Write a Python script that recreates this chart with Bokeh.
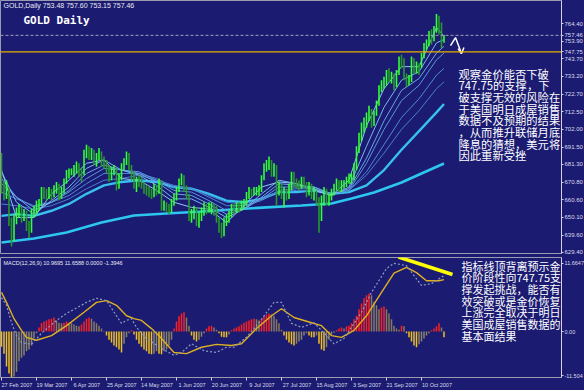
from bokeh.plotting import figure
from bokeh.layouts import column
from bokeh.models import ColumnDataSource, Range1d, FixedTicker, Span, Label, PrintfTickFormatter
from bokeh.embed import file_html
from bokeh.resources import INLINE

# ---------------- data ----------------
bar_high = [688,671,672,668,650,652,656,658,657,655,654,648,655,657,660,661,668,668,667,668,
            667,669,671,670,668,673,678,679,679,681,683,682,679,690,693,692,691,690,688,691,
            689,686,684,681,680,681,679,676,682,685,689,688,681,677,674,675,674,671,669,668,
            667,670,669,673,672,660,659,658,661,664,668,673,676,675,669,664,655,657,656,653,
            656,659,658,659,659,658,657,650,647,650,652,654,658,658,659,659,660,661,665,668,
            667,668,668,669,675,682,684,686,684,682,681,671,670,668,667,670,677,677,673,672,
            674,674,671,671,670,668,666,662,663,668,667,664,667,670,673,672,672,672,674,676,
            676,682,692,700,706,709,712,716,714,713,719,728,731,733,737,738,736,735,737,745,
            746,744,735,734,745,744,742,741,747,753,755,760,761,763,770,769,765,757.60]
bar_low = [664,660,661,645,633,636,646,650,647,648,642,638,641,650,652,654,657,661,660,661,
           660,662,664,660,661,664,670,673,675,674,676,674,671,675,685,684,684,681,680,684,
           680,679,676,671,672,675,666,667,672,678,681,678,672,667,665,668,667,664,663,662,
           661,662,663,664,654,654,653,652,653,657,660,665,669,665,661,648,647,649,645,644,
           648,651,652,653,652,651,647,641,638,639,645,647,650,652,653,653,654,655,657,661,
           662,663,663,663,665,672,677,678,674,674,657,663,661,656,660,661,666,668,667,666,
           667,667,662,663,661,660,657,641,648,657,657,657,660,663,666,665,665,667,668,670,
           670,672,678,688,695,700,703,707,703,704,710,716,724,726,728,730,729,725,727,734,
           738,731,727,728,730,735,735,734,738,744,749,751,752,754,759,758,750,753.15]
bar_close = [668,665,667,648,640,650,653,654,650,652,646,643,652,654,656,658,665,664,663,665,
             664,667,668,662,666,671,676,677,677,679,680,677,675,688,691,687,689,683,686,688,
             683,682,680,674,678,679,668,674,680,683,686,680,675,670,672,671,670,667,666,665,
             664,668,666,671,657,657,656,655,659,662,667,672,674,667,663,651,652,655,649,650,
             654,656,655,656,656,654,649,644,642,648,650,652,656,655,657,656,657,659,663,666,
             664,666,666,667,673,680,681,683,676,680,666,668,665,665,663,668,675,671,670,669,
             672,669,665,669,664,664,659,650,660,666,660,662,665,668,672,667,670,670,672,674,
             674,680,690,698,703,706,710,713,706,711,717,726,729,730,735,733,733,728,735,743,
             742,733,730,731,743,737,740,738,745,752,753,757,756,761,767,764,753,757.46]

date_tick_bars = [0, 14, 28, 42, 56, 70, 84, 98, 112, 126, 140, 154, 168]
date_tick_labels = ["27 Feb 2007", "19 Mar 2007", "6 Apr 2007", "25 Apr 2007", "14 May 2007",
                    "1 Jun 2007", "20 Jun 2007", "9 Jul 2007", "27 Jul 2007", "15 Aug 2007",
                    "3 Sep 2007", "21 Sep 2007", "10 Oct 2007"]
price_ticks = [764.40, 753.90, 743.70, 733.20, 722.70, 712.50, 702.00, 691.50, 681.30,
               670.80, 660.60, 650.10, 639.60, 629.40]
current_price = 757.46
support_level = 747.75

ma_bars = [0,6,13,20,27,34,41,48,55,62,69,76,83,90,97,104,111,118,125,132,139,146,153,160,167,174,177]
ma_5  = [678,650,650,664,672,682,684,673,672,666,659,656,655,647,657,668,671,670,666,663,672,704,726,739,739,762,757]
ma_10 = [677,659,652,660,668,679,684,678,675,669,661,661,656,650,655,664,672,670,667,663,668,692,715,731,736,753,755]
ma_15 = [673,662,654,659,666,676,681,678,676,671,664,663,658,652,655,662,670,669,668,664,667,685,707,725,732,747,751]
ma_20 = [670,662,656,659,665,673,679,678,677,672,666,665,660,654,655,661,668,668,668,664,666,682,702,719,728,743,747]
ma_30 = [665,661,657,659,663,670,676,676,676,673,668,667,662,657,657,660,666,667,667,664,666,677,693,709,720,734,738]
ma_40 = [658,657,655,657,661,667,672,673,675,672,669,667,663,659,658,661,665,666,666,664,666,675,688,702,713,726,730]
ma_50 = [651,652,651,654,658,664,669,671,672,671,668,667,664,660,659,661,665,665,666,664,665,669,678,690,701,712,717]
ma_long_bars = [0,13,26,40,53,66,80,106,120,132,140,149,160,168,177]
ma_long = [635.3,637.6,641.2,647.1,651.2,652.4,653.6,656.0,657.1,658.3,661.3,664.8,670.7,676.0,681.9]

# MACD panel
macd_bars = [0,2,4,6,8,12,16,22,26,32,34,38,42,46,48,50,52,54,58,64,69,72,76,81,86,90,93,98,
             103,109,112,116,120,125,130,133,137,144,148,154,157,162,165,168,172,177]
macd_main = [5.8,4.5,1.5,-0.7,-1.9,-2.2,-0.3,1.9,3.1,4.5,5.0,5.7,5.3,2.7,1.4,1.9,2.2,0.7,-1.2,-2.9,
             -4.1,-3.6,-2.1,-3.3,-3.6,-2.7,-2.7,-1.0,1.5,5.0,5.0,1.4,0.7,1.5,-0.7,-2.1,-1.2,3.3,6.7,
             10.8,11.7,11.3,9.6,7.9,8.2,9.6]
signal_bars = [0,2,5,8,10,14,20,26,33,38,42,46,50,53,56,60,64,69,74,80,86,92,96,102,108,112,117,
               124,128,132,136,141,146,152,157,162,166,170,175,177]
macd_signal = [6.7,5.0,2.2,0.2,-1.0,-1.5,-0.7,1.0,3.3,5.0,5.3,4.5,2.7,2.2,1.9,0.5,-1.2,-3.6,-3.8,-2.7,
               -2.2,-2.4,-2.1,0.5,2.7,3.9,2.4,1.5,1.0,-0.7,-1.0,0.2,2.7,6.7,10.0,11.0,10.1,8.7,8.7,8.9]
macd_hist = [-2.6,-3.8,-6.0,-7.2,-8.1,-7.7,-6.9,-5.1,-4.5,-4.1,-3.4,-3.1,-2.4,-1.2,-0.3,0.7,1.4,1.7,1.9,2.1,
             2.2,2.4,1.9,1.5,1.4,1.5,1.7,1.5,1.4,1.2,1.0,0.9,1.2,1.7,2.2,2.4,2.2,1.7,1.4,1.0,
             0.5,0.1,-0.7,-1.4,-1.9,-2.4,-2.7,-3.1,-3.6,-2.1,-1.0,-0.3,0.2,-0.5,-1.4,-2.1,-2.6,-3.1,-3.4,-3.8,
             -3.9,-3.8,-3.4,-3.8,-3.9,-3.4,-3.1,-2.4,-1.4,0.5,1.7,2.6,3.1,3.3,2.4,1.0,-0.7,-1.4,-1.7,-1.4,
             -0.9,-0.3,0.5,0.9,1.0,0.7,0.3,-0.3,-0.9,-1.0,-1.0,-0.5,0.2,0.5,0.7,0.9,1.2,1.5,1.7,1.9,
             2.1,2.2,2.1,1.9,2.2,2.6,2.9,3.1,2.9,2.7,2.1,1.4,0.3,-0.7,-1.4,-1.9,-2.2,-2.4,-2.1,-1.7,
             -1.4,-0.7,-0.3,-0.7,-1.0,-1.0,-0.7,-2.1,-3.1,-3.3,-2.7,-1.4,-0.5,-0.2,0.2,0.5,0.7,0.5,0.9,1.0,
             1.4,2.1,2.7,3.8,4.8,5.7,6.2,6.5,6.2,5.1,4.5,3.8,4.1,4.3,3.8,3.1,2.1,1.0,0.5,0.3,
             1.0,0.9,-0.3,-1.0,-1.7,-2.4,-2.7,-2.2,-1.7,-1.2,-0.7,-0.3,0.2,0.5,0.9,1.4,0.7,-1.0]
macd_ticks = [11.6647, 0.0, -7.55]
macd_tick_labels = ["11.6647", "0.00", "-11.504"]

main_text = ["观察金价能否下破", "747.75的支撑，下", "破支撑无效的风险在", "于美国明日成屋销售",
             "数据不及预期的结果", "，从而推升联储月底", "降息的猜想，美元将", "因此重新受挫"]
macd_text = ["指标线顶背离预示金", "价阶段性向747.75支", "撑发起挑战，能否有", "效突破或是金价恢复",
             "上涨完全取决于明日", "美国成屋销售数据的", "基本面结果"]

# ---------------- styling ----------------
BG = "#1b1b72"
AXC = "#d8d0e8"
LBL = "#dcdcec"
CJK = "Noto Sans CJK SC"
FW = 561
LABEL_SHIFT = 6.2  # bars; puts each date label just right of its tick

def mx(xp):  # canvas px -> bar units
    return xp / 2.5 - 0.4

def my(yp):  # canvas px -> price (main panel)
    return 764.4 - (yp - 23) / 1.696

def hy(yp):  # canvas px -> macd units
    return (331 - yp) / 5.83

n = len(bar_close)
bars = list(range(n))
bar_colors = []
for i in range(n):
    up = i > 0 and bar_close[i] >= bar_close[i - 1]
    bar_colors.append("#33ff33" if up else "#2a9a2a")

# ---------------- main panel ----------------
p = figure(frame_width=FW, frame_height=253, min_border=0, min_border_bottom=2,
           x_range=Range1d(-0.4, -0.4 + FW / 2.5), y_range=Range1d(628.8, 778.0),
           y_axis_location="right", x_axis_location=None,
           toolbar_location=None, output_backend="svg")
p.background_fill_color = BG
p.border_fill_color = BG
p.outline_line_color = "#9a9ab0"
p.grid.visible = False
ya = p.yaxis[0]
axis_ticks = sorted(price_ticks + [current_price, support_level], reverse=True)
ya.ticker = FixedTicker(ticks=axis_ticks)
ya.formatter = PrintfTickFormatter(format="%.2f")
ya.major_label_text_font_size = "6px"
ya.major_label_text_color = LBL
ya.major_label_text_font = "Liberation Sans"
ya.axis_line_color = AXC
ya.major_tick_line_color = AXC
ya.major_tick_out = 2
ya.major_tick_in = 0
ya.minor_tick_line_color = None
ya.major_label_standoff = 1

p.add_layout(Span(location=current_price, dimension="width", line_color="#a0a0b8",
                  line_dash="3 2", line_width=1))
p.add_layout(Span(location=support_level, dimension="width", line_color="#e8b000", line_width=1.3))

thin = [(ma_40, "#4a7fd0"), (ma_30, "#5088d6"), (ma_20, "#5c96de"), (ma_15, "#68a6e6"),
        (ma_10, "#78b8ee"), (ma_5, "#8ccaf4")]
p.line(ma_long_bars, ma_long, line_color="#2cc6ee", line_width=2.6)
p.line(ma_bars, ma_50, line_color="#38c0ee", line_width=2.4)
for vals, col in thin:
    p.line(ma_bars, vals, line_color=col, line_width=1)

src = ColumnDataSource(dict(x=bars, h=bar_high, l=bar_low, c=bar_colors))
p.segment(x0="x", y0="l", x1="x", y1="h", line_color="c", line_width=1.6, source=src)

# arrow annotation
p.line([mx(450), mx(455), mx(461)], [my(45), my(37), my(53)], line_color="white", line_width=1.5)
p.line([mx(457.5), mx(461), mx(463.5)], [my(48), my(53), my(47)], line_color="white", line_width=1.5)

p.add_layout(Label(x=mx(3), y=my(5), text="GOLD,Daily  753.48 757.60 753.15 757.46",
                   text_font_size="7px", text_color="#e8e8f0", text_font="Liberation Sans",
                   text_baseline="middle"))
p.add_layout(Label(x=mx(23), y=my(20), text="GOLD Daily", text_font_size="11px",
                   text_font_style="bold", text_color="white", text_font="DejaVu Sans Mono",
                   text_baseline="middle"))
for k, t in enumerate(main_text):
    p.add_layout(Label(x=mx(458), y=my(73 + 11.7 * k), text=t, text_font=CJK,
                       text_font_size="11.3px", text_color="white", text_baseline="middle"))

# ---------------- MACD panel ----------------
q = figure(frame_width=FW, frame_height=120, min_border=0, min_border_top=2,
           x_range=p.x_range, y_range=Range1d(hy(377), hy(257)),
           y_axis_location="right", toolbar_location=None, output_backend="svg")
q.background_fill_color = BG
q.border_fill_color = BG
q.outline_line_color = "#9a9ab0"
q.grid.visible = False

qa = q.yaxis[0]
qa.ticker = FixedTicker(ticks=macd_ticks)
qa.major_label_overrides = {v: s for v, s in zip(macd_ticks, macd_tick_labels)}
qa.major_label_text_font_size = "5.5px"
qa.major_label_text_color = LBL
qa.major_label_text_font = "Liberation Sans"
qa.axis_line_color = AXC
qa.major_tick_line_color = AXC
qa.major_tick_out = 2
qa.major_tick_in = 0
qa.minor_tick_line_color = None
qa.major_label_standoff = 1

xa = q.xaxis[0]
label_pos = [b + LABEL_SHIFT for b in date_tick_bars]
xa.ticker = FixedTicker(ticks=label_pos, minor_ticks=date_tick_bars)
xa.major_label_overrides = {v: s for v, s in zip(label_pos, date_tick_labels)}
xa.major_label_text_font_size = "5.5px"
xa.major_label_text_color = LBL
xa.major_label_text_font = "Liberation Sans"
xa.axis_line_color = "#9a9ab0"
xa.major_tick_line_color = None
xa.minor_tick_line_color = AXC
xa.minor_tick_out = 3
xa.minor_tick_in = 0
xa.major_tick_out = 3
xa.major_tick_in = 0
xa.major_label_standoff = 1

hcol = []
prev = 0.0
for v in macd_hist:
    if v >= 0:
        hcol.append("#ff2020" if v >= prev else "#8a7a5a")
    else:
        hcol.append("#f0c020" if v <= prev else "#8a8466")
    prev = v
hsrc = ColumnDataSource(dict(x=bars, top=macd_hist, c=hcol))
q.vbar(x="x", top="top", bottom=0, width=0.6, fill_color="c", line_color=None, source=hsrc)
q.line(signal_bars, macd_signal, line_color="#e0b020", line_width=1.4)
q.line(macd_bars, macd_main, line_color="#8b9cc0", line_width=1.2, line_dash="2 2")
q.line([mx(398), mx(452)], [hy(256.5), hy(274)], line_color="#ffff00", line_width=3.5)

q.add_layout(Label(x=mx(3), y=hy(262), text="MACD(12,26,9) 10.9695 11.6588 0.0000 -1.3946",
                   text_font_size="5.5px", text_color="#e8e8f0", text_font="Liberation Sans",
                   text_baseline="middle"))
for k, t in enumerate(macd_text):
    q.add_layout(Label(x=mx(461), y=hy(265 + 11.7 * k), text=t, text_font=CJK,
                       text_font_size="11px", text_color="white", text_baseline="middle"))

layout = column(p, q, spacing=0)
layout.styles = {"background-color": BG}
open("out.html", "w").write(file_html(layout, INLINE))
